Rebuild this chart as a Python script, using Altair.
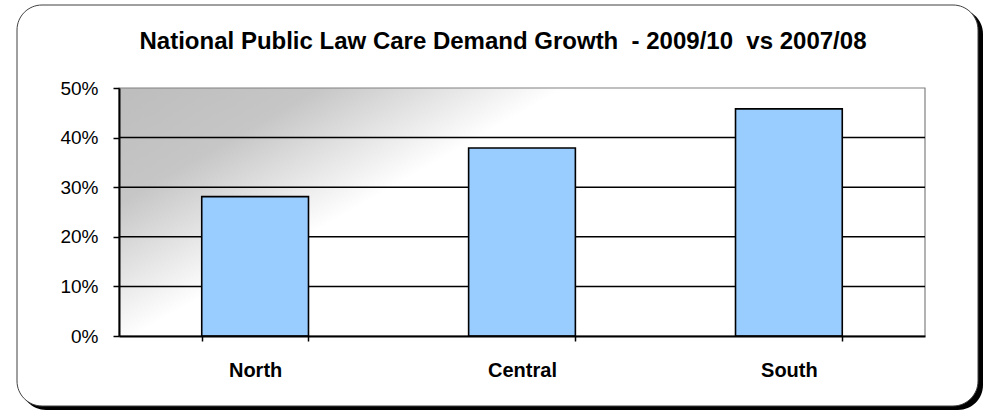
import altair as alt
import pandas as pd

# ---- data ----
regions = ["North", "Central", "South"]
growth = [0.281, 0.379, 0.458]
y_ticks = [0.0, 0.1, 0.2, 0.3, 0.4, 0.5]
grid_values = [0.1, 0.2, 0.3, 0.4]
title_text = "National Public Law Care Demand Growth\u00a0 - 2009/10\u00a0 vs 2007/08"

bars_df = pd.DataFrame({"region": regions, "value": growth})
grid_df = pd.DataFrame({"value": grid_values})
one = alt.Data(values=[{"k": 1}])

W, H = 806, 248
FONT = "Liberation Sans"

y_scale = alt.Scale(domain=[0, 0.5], nice=False, zero=True)
y_axis = alt.Axis(values=y_ticks, format=".0%", grid=False, domainColor="black",
                  domainWidth=2, tickColor="black", tickSize=6, tickWidth=1.5,
                  labelFont=FONT, labelFontSize=19, labelColor="black",
                  labelPadding=15, title=None, zindex=1)
x_axis = alt.Axis(labelAngle=0, tickBand="extent", tickSize=5, tickColor="black",
                  tickWidth=1.5, domainColor="black", domainWidth=2,
                  labelFont=FONT, labelFontWeight="bold", labelFontSize=20,
                  labelColor="black", labelBaseline="alphabetic", labelPadding=35,
                  title=None, zindex=1, grid=False)

shadow = alt.Chart(one).mark_rect(fill="black", cornerRadius=25).encode(
    x=alt.value(-98), x2=alt.value(864), y=alt.value(-79), y2=alt.value(322))
border = alt.Chart(one).mark_rect(fill="white", stroke="#404040", strokeWidth=1,
                                  cornerRadius=25).encode(
    x=alt.value(-102), x2=alt.value(859), y=alt.value(-83), y2=alt.value(318))

grad = alt.Gradient(
    gradient="linear",
    stops=[alt.GradientStop(color="#bdbdbd", offset=0),
           alt.GradientStop(color="#c6c6c6", offset=0.45),
           alt.GradientStop(color="#ffffff", offset=1)],
    x1=0, y1=0, x2=0.43, y2=0.23)
plot_bg = alt.Chart(one).mark_rect(fill=grad, stroke="#808080", strokeWidth=1.2).encode(
    x=alt.value(0), x2=alt.value(W), y=alt.value(0), y2=alt.value(H))

grid = alt.Chart(grid_df).mark_rule(color="black", strokeWidth=1.5).encode(
    y=alt.Y("value:Q", scale=y_scale, axis=y_axis))

bars = alt.Chart(bars_df).mark_bar(fill="#99CCFF", stroke="black", strokeWidth=1.6).encode(
    x=alt.X("region:N", sort=regions, axis=x_axis,
            scale=alt.Scale(paddingInner=0.6, paddingOuter=0.31)),
    y=alt.Y("value:Q", scale=y_scale, axis=y_axis))

title = alt.Chart(one).mark_text(font=FONT, fontSize=24, fontWeight="bold",
                                 align="center", baseline="alphabetic",
                                 color="black").encode(
    x=alt.value(384), y=alt.value(-39), text=alt.value(title_text))

chart = alt.layer(shadow, border, plot_bg, grid, bars, title).properties(
    width=W, height=H,
    autosize=alt.AutoSizeParams(type="none"),
    padding={"left": 119, "top": 88, "right": 66, "bottom": 75},
    background="white",
).configure_view(stroke=None)

chart.save("out.html", embed_options={"renderer": "svg", "actions": False})
